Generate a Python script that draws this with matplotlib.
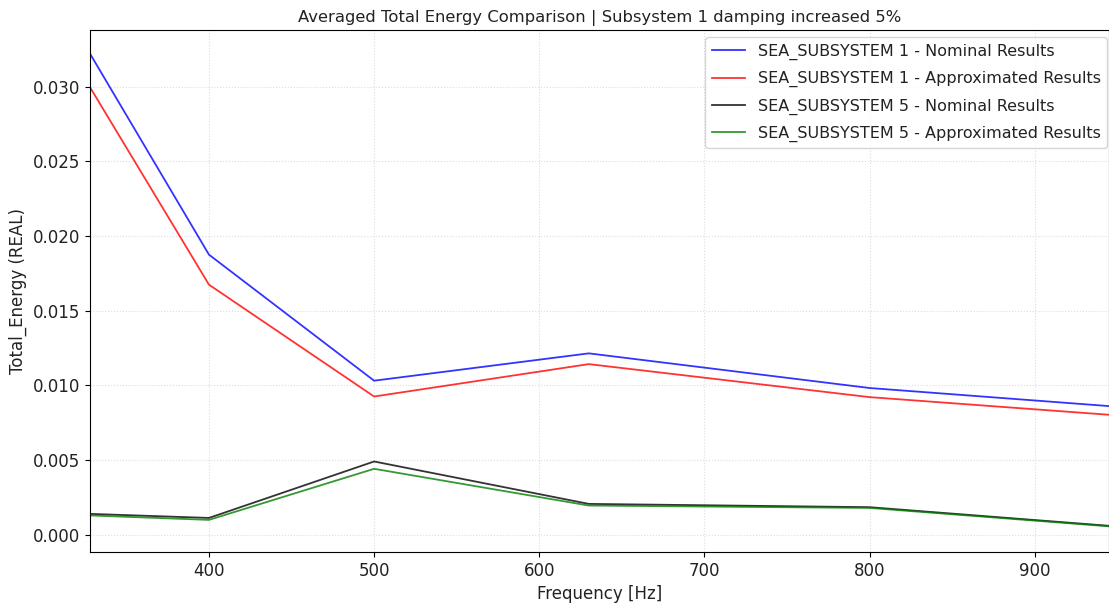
import numpy as np
import matplotlib
matplotlib.use('Agg')
import matplotlib.pyplot as plt

# frequency bands (Hz) and averaged total energy per subsystem
freq = [315, 400, 500, 630, 800, 1000]
sub1_nominal = [0.03464, 0.01876, 0.01032, 0.01215, 0.00983, 0.00816]
sub1_approx = [0.03235, 0.01675, 0.00926, 0.01143, 0.00922, 0.00759]
sub5_nominal = [0.00145, 0.00113, 0.00491, 0.00207, 0.00185, 0.00013]
sub5_approx = [0.00135, 0.00100, 0.00442, 0.00196, 0.00180, 0.00010]

plt.rcParams['font.family'] = ['DejaVu Sans']
plt.rcParams['text.color'] = '#222222'
plt.rcParams['axes.labelcolor'] = '#222222'
fig = plt.figure(figsize=(11.09, 6.03), dpi=100)
ax = fig.add_axes([0.0812, 0.0846, 0.9188, 0.8656])

ax.plot(freq, sub1_nominal, color='b', alpha=0.8, lw=1.3, label='SEA_SUBSYSTEM 1 - Nominal Results')
ax.plot(freq, sub1_approx, color='r', alpha=0.8, lw=1.3, label='SEA_SUBSYSTEM 1 - Approximated Results')
ax.plot(freq, sub5_nominal, color='k', alpha=0.8, lw=1.3, label='SEA_SUBSYSTEM 5 - Nominal Results')
ax.plot(freq, sub5_approx, color='g', alpha=0.8, lw=1.3, label='SEA_SUBSYSTEM 5 - Approximated Results')

ax.set_xlim(328, 945)
ax.set_ylim(-0.00115, 0.0338)
ax.set_yticks([0.0, 0.005, 0.010, 0.015, 0.020, 0.025, 0.030])
ax.grid(True, color='#dddddd', linestyle=':', linewidth=0.8)
ax.tick_params(labelsize=12, labelcolor='#222222')
ax.set_title('Averaged Total Energy Comparison | Subsystem 1 damping increased 5%', fontsize=11.8)
ax.set_xlabel('Frequency [Hz]', fontsize=12)
ax.set_ylabel('Total_Energy (REAL)', fontsize=12)
ax.legend(loc='upper right', bbox_to_anchor=(0.9985, 0.986), borderaxespad=0,
          fontsize=11.5, labelspacing=0.7, handlelength=2.1)

fig.savefig('out.png', dpi=100)
